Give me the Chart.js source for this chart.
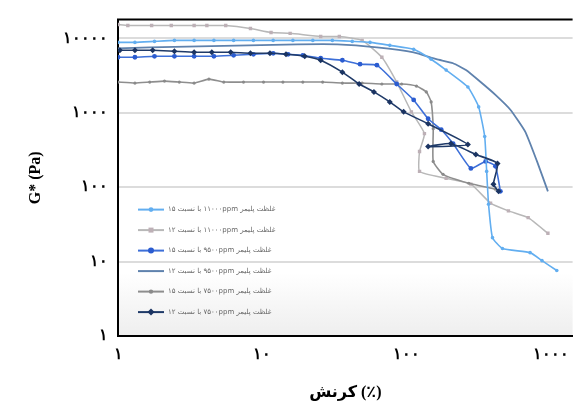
<!DOCTYPE html>
<html>
<head>
<meta charset="utf-8">
<script src="https://cdn.jsdelivr.net/npm/chart.js@4/dist/chart.umd.min.js"></script>
<style>
html,body{margin:0;padding:0;background:#fff;}
#wrap{width:578px;height:412px;position:relative;}
</style>
</head>
<body>
<div id="wrap"><canvas id="c" width="578" height="412"></canvas></div>
<script>
// Tick labels (Persian digits)
const xTickValues = [1, 10, 100, 1000];
const xTickLabels = ['۱', '۱۰', '۱۰۰', '۱۰۰۰'];
const yTickValues = [1, 10, 100, 1000, 10000];
const yTickLabels = ['۱', '۱۰', '۱۰۰', '۱۰۰۰', '۱۰۰۰۰'];

const seriesLabels = [
  'غلظت پلیمر ۱۱۰۰۰ppm با نسبت ۱۵',
  'غلظت پلیمر ۱۱۰۰۰ppm با نسبت ۱۲',
  'غلظت پلیمر ۹۵۰۰ppm با نسبت ۱۵',
  'غلظت پلیمر ۹۵۰۰ppm با نسبت ۱۲',
  'غلظت پلیمر ۷۵۰۰ppm با نسبت ۱۵',
  'غلظت پلیمر ۷۵۰۰ppm با نسبت ۱۲'
];

// Series 1 (light blue, markers)
const s1Strain = [1, 1.31, 1.79, 2.46, 3.37, 4.62, 6.33, 8.68, 11.9, 16.3, 22.4, 30.6, 42.0, 55.8, 76.5, 112, 148, 188, 266, 316, 348, 359, 370, 394, 462, 718, 868, 1099];
const s1Modulus = [8840, 8840, 9120, 9400, 9400, 9400, 9400, 9400, 9400, 9400, 9400, 9400, 9120, 8840, 8070, 7130, 5250, 3750, 2220, 1200, 479, 163, 59, 21, 15, 13.2, 10.3, 7.6];

// Series 2 (light grey, square markers)
const s2Strain = [1, 1.17, 1.71, 2.34, 3.37, 4.13, 5.58, 8.28, 11.5, 15.6, 25.4, 34.2, 49.2, 67.4, 85.4, 108, 133, 123, 123, 188, 279, 382, 508, 696, 954];
const s2Modulus = [15400, 14900, 14900, 14900, 14900, 14900, 14900, 13600, 12000, 11700, 10600, 10600, 9400, 5580, 2590, 1030, 525, 302, 163, 132, 110, 61, 48, 39, 24];

// Series 3 (blue, circle markers)
const s3Strain = [1, 1.31, 1.79, 2.46, 3.37, 4.62, 6.33, 8.68, 11.9, 15.1, 19.1, 25.4, 35.9, 47.6, 62.3, 85.4, 112, 141, 174, 210, 279, 353, 413, 447];
const s3Modulus = [5580, 5580, 5750, 5750, 5750, 5750, 5930, 6120, 6310, 6120, 5930, 5410, 5090, 4500, 4370, 2440, 1490, 832, 593, 386, 179, 222, 191, 88];

// Series 4 (steel blue, no markers)
const s4Strain = [1, 1.66, 3.64, 8.02, 17.6, 33.2, 62.3, 112, 161, 210, 258, 326, 413, 524, 664, 802, 954];
const s4Modulus = [7360, 7590, 7820, 8070, 8320, 8320, 7590, 6510, 5250, 4640, 3750, 2590, 1740, 1100, 558, 222, 88];

// Series 5 (grey, small markers)
const s5Strain = [1, 1.31, 1.66, 2.10, 2.66, 3.37, 4.27, 5.41, 7.41, 10.2, 13.9, 19.1, 26.2, 35.9, 49.2, 67.4, 92.4, 117, 137, 148, 153, 153, 179, 270, 413];
const s5Modulus = [2590, 2510, 2590, 2670, 2590, 2510, 2840, 2590, 2590, 2590, 2590, 2590, 2590, 2510, 2510, 2440, 2440, 2290, 1910, 1400, 612, 222, 149, 113, 94];

// Series 6 (navy, diamond markers)
const s6Strain = [1.03, 1.31, 1.74, 2.46, 3.37, 4.47, 6.04, 8.28, 11.3, 14.6, 19.7, 25.4, 35.9, 46.9, 59.4, 76.5, 95.4, 141, 266, 141, 203, 302, 427, 400, 434];
const s6Modulus = [6920, 6920, 6920, 6710, 6510, 6510, 6510, 6310, 6310, 6120, 5750, 5090, 3520, 2440, 1910, 1400, 1030, 713, 374, 352, 386, 275, 209, 110, 88];

function pts(xs, ys) { return xs.map((x, i) => ({ x: x, y: ys[i] })); }

const datasets = [
  { label: seriesLabels[0], data: pts(s1Strain, s1Modulus), borderColor: '#62aef0', backgroundColor: '#62aef0', borderWidth: 1.6, pointStyle: 'circle', pointRadius: 1.8, order: 2 },
  { label: seriesLabels[1], data: pts(s2Strain, s2Modulus), borderColor: '#b8b8b8', backgroundColor: '#bdb0b6', borderWidth: 1.5, pointStyle: 'rect', pointRadius: 2.4, order: 6 },
  { label: seriesLabels[2], data: pts(s3Strain, s3Modulus), borderColor: '#3d6fd8', backgroundColor: '#2b5cd0', borderWidth: 1.6, pointStyle: 'circle', pointRadius: 2.4, order: 3 },
  { label: seriesLabels[3], data: pts(s4Strain, s4Modulus), borderColor: '#5f82ad', backgroundColor: '#5f82ad', borderWidth: 1.8, pointRadius: 0, order: 4 },
  { label: seriesLabels[4], data: pts(s5Strain, s5Modulus), borderColor: '#8e8e8e', backgroundColor: '#8a8a8a', borderWidth: 1.6, pointStyle: 'circle', pointRadius: 1.6, order: 5 },
  { label: seriesLabels[5], data: pts(s6Strain, s6Modulus), borderColor: '#1f3a68', backgroundColor: '#1b3462', borderWidth: 1.6, pointStyle: 'rectRot', pointRadius: 3, order: 1 }
];
datasets.forEach(d => { d.fill = false; d.tension = 0.15; d.pointBorderWidth = 0; d.pointHoverRadius = 0; });

const bgPlugin = {
  id: 'bg',
  beforeDraw(chart) {
    const { ctx, chartArea: a } = chart;
    ctx.save();
    const g = ctx.createLinearGradient(0, a.top, 0, a.bottom);
    g.addColorStop(0, '#ffffff');
    g.addColorStop(0.8, '#ffffff');
    g.addColorStop(1, '#eeeeee');
    ctx.fillStyle = g;
    ctx.fillRect(a.left, a.top, a.right - a.left, a.bottom - a.top);
    ctx.restore();
  },
  afterDraw(chart) {
    const { ctx, chartArea: a } = chart;
    ctx.save();
    ctx.strokeStyle = '#000';
    ctx.lineWidth = 2;
    ctx.beginPath();
    ctx.moveTo(a.left - 1, a.top);
    ctx.lineTo(a.right, a.top);
    ctx.stroke();
    ctx.restore();
  }
};

const legendPlugin = {
  id: 'innerLegend',
  afterDatasetsDraw(chart) {
    const { ctx, chartArea: a } = chart;
    const x0 = a.left + 20, y0 = a.top + 190, rowH = 20.5;
    ctx.save();
    chart.data.datasets.forEach((d, i) => {
      const y = y0 + i * rowH;
      ctx.strokeStyle = d.borderColor;
      ctx.lineWidth = 2;
      ctx.beginPath();
      ctx.moveTo(x0, y);
      ctx.lineTo(x0 + 26, y);
      ctx.stroke();
      if (d.pointRadius > 0) {
        ctx.fillStyle = d.backgroundColor;
        ctx.beginPath();
        if (d.pointStyle === 'rect') {
          ctx.fillRect(x0 + 13 - 2.5, y - 2.5, 5, 5);
        } else if (d.pointStyle === 'rectRot') {
          ctx.moveTo(x0 + 13, y - 3.5); ctx.lineTo(x0 + 16.5, y); ctx.lineTo(x0 + 13, y + 3.5); ctx.lineTo(x0 + 9.5, y); ctx.closePath(); ctx.fill();
        } else {
          ctx.arc(x0 + 13, y, d.pointRadius + 0.6, 0, Math.PI * 2); ctx.fill();
        }
      }
      ctx.direction = 'rtl';
      ctx.textAlign = 'left';
      ctx.textBaseline = 'middle';
      ctx.fillStyle = '#666666';
      ctx.font = '7px "DejaVu Sans", sans-serif';
      ctx.fillText(d.label, x0 + 30, y);
    });
    ctx.restore();
  }
};

const tickFont = { family: "'Liberation Serif', 'DejaVu Serif', serif", weight: 'bold', size: 16 };

new Chart(document.getElementById('c'), {
  type: 'line',
  data: { datasets: datasets },
  options: {
    responsive: false,
    animation: false,
    events: [],
    layout: { padding: { top: 17, left: 0, right: 0, bottom: 0 } },
    plugins: { legend: { display: false }, tooltip: { enabled: false } },
    scales: {
      x: {
        type: 'logarithmic',
        min: 1,
        max: 1415,
        afterBuildTicks: s => { s.ticks = xTickValues.map(v => ({ value: v })); },
        afterFit: s => { s.height = 76; },
        ticks: {
          autoSkip: false, maxRotation: 0, padding: 9, color: '#000', font: tickFont,
          callback: v => { const i = xTickValues.indexOf(v); return i >= 0 ? xTickLabels[i] : ''; }
        },
        grid: { display: false, drawTicks: false },
        border: { display: true, color: '#000', width: 2 },
        title: { display: true, text: 'کرنش (٪)', color: '#000', font: { family: "'Liberation Serif', 'DejaVu Sans', serif", weight: 'bold', size: 16 }, padding: { top: 0, bottom: 10 } }
      },
      y: {
        type: 'logarithmic',
        min: 1,
        max: 17900,
        afterBuildTicks: s => { s.ticks = yTickValues.map(v => ({ value: v })); },
        afterFit: s => { s.width = 118; },
        ticks: {
          autoSkip: false, padding: 10, color: '#000', font: tickFont,
          callback: v => { const i = yTickValues.indexOf(v); return i >= 0 ? yTickLabels[i] : ''; }
        },
        grid: { color: '#dcdcdc', lineWidth: 2, drawTicks: false },
        border: { display: true, color: '#000', width: 2 },
        title: { display: true, text: 'G* (Pa)', color: '#000', font: { family: "'Liberation Serif', serif", weight: 'bold', size: 16 }, padding: { top: 26, bottom: 0 } }
      }
    }
  },
  plugins: [bgPlugin, legendPlugin]
});
</script>
</body>
</html>
